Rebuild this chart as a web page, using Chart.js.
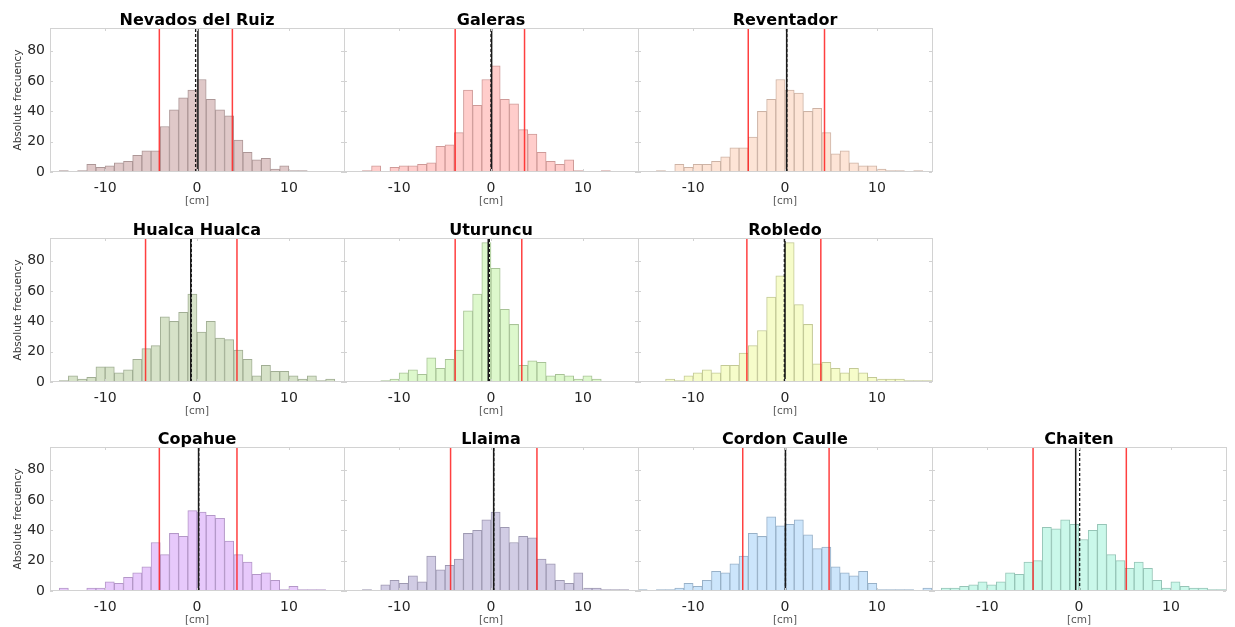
<!DOCTYPE html>
<html>
<head>
<meta charset="utf-8">
<script src="https://cdn.jsdelivr.net/npm/chart.js@4"></script>
<style>
body { margin: 0; background: #fff; width: 1235px; height: 627px; position: relative; overflow: hidden; }
canvas { position: absolute; }
</style>
</head>
<body>
<script>
// volcano names, one panel each
var names = ['Nevados del Ruiz', 'Galeras', 'Reventador', 'Hualca Hualca', 'Uturuncu',
             'Robledo', 'Copahue', 'Llaima', 'Cordon Caulle', 'Chaiten'];

// left edge of the first 1 cm bin of every histogram
var binFrom = [-15, -14, -14, -15, -12, -13, -15, -14, -16, -15];

// counts per bin
var nevados    = [1, 0, 1, 5, 3, 4, 6, 7, 11, 14, 14, 30, 41, 49, 54, 61, 48, 41, 37, 21, 13, 8, 9, 2, 4, 1, 1];
var galeras    = [1, 4, 0, 3, 4, 4, 5, 6, 17, 18, 26, 54, 44, 61, 70, 48, 45, 28, 25, 13, 7, 5, 8, 1, 0, 0, 1];
var reventador = [1, 0, 5, 3, 5, 5, 7, 10, 16, 16, 23, 40, 48, 61, 54, 52, 40, 42, 26, 12, 14, 6, 4, 4, 2, 1, 1, 0, 1];
var hualca     = [1, 4, 2, 3, 10, 10, 6, 8, 15, 22, 24, 43, 40, 46, 58, 33, 40, 29, 28, 21, 15, 4, 11, 7, 7, 4, 2, 4, 1, 2];
var uturuncu   = [1, 2, 6, 8, 5, 16, 9, 15, 21, 47, 58, 92, 75, 48, 38, 11, 14, 13, 4, 5, 4, 2, 4, 2];
var robledo    = [2, 1, 4, 6, 8, 6, 11, 11, 19, 24, 34, 56, 70, 92, 51, 38, 12, 13, 9, 6, 9, 6, 3, 2, 2, 2, 1, 1, 1];
var copahue    = [2, 0, 0, 2, 2, 6, 5, 9, 12, 16, 32, 24, 38, 36, 53, 52, 50, 48, 33, 24, 19, 11, 12, 7, 1, 3, 1, 1, 1];
var llaima     = [1, 0, 4, 7, 5, 10, 6, 23, 14, 17, 21, 38, 40, 47, 52, 42, 32, 36, 35, 21, 18, 7, 5, 12, 2, 2, 1, 1, 1];
var cordon     = [1, 0, 1, 1, 2, 5, 3, 7, 13, 12, 18, 23, 38, 36, 49, 43, 44, 47, 37, 28, 29, 16, 12, 10, 13, 5, 1, 1, 1, 1, 0, 2];
var chaiten    = [2, 2, 3, 4, 6, 4, 6, 12, 11, 19, 20, 42, 41, 47, 44, 34, 40, 44, 24, 20, 15, 19, 15, 7, 2, 6, 3, 2, 2, 1, 1];
var counts = [nevados, galeras, reventador, hualca, uturuncu, robledo, copahue, llaima, cordon, chaiten];

// vertical markers [cm]
var redLo      = [-4.1, -3.9, -4.0, -5.6, -3.9, -4.15, -4.1, -4.4, -4.6, -5.0];
var redHi      = [3.85, 3.65, 4.3, 4.35, 3.35, 3.9, 4.35, 5.0, 4.8, 5.15];
var solidLine  = [0.1, 0.07, 0.18, -0.68, -0.3, 0, 0.17, 0.29, 0.05, -0.36];
var dashedLine = [-0.15, 0, 0.2, -0.62, -0.18, -0.07, 0.19, 0.3, 0.05, 0.07];

var xTicks = [-10, 0, 10];
var yTicks = [0, 20, 40, 60, 80];

var fills = ['#dfc8c8', '#ffcdcb', '#fde4d6', '#d6e2c8', '#ddf8cc',
             '#f6fcca', '#e7c9fb', '#d1cce4', '#cce5fb', '#caf8ea'];
var edges = ['#ad9797', '#cf9a98', '#cdb3a5', '#a1ae94', '#a8c397',
             '#c3c996', '#b497c8', '#9e99b2', '#98b1c8', '#96c5b7'];

var colLeft = [50, 344, 638, 932];
var rowTop = [28, 238, 447];
var plotW = 294, plotH = 144, padT = 28, padB = 40;
var cells = [[0, 0], [0, 1], [0, 2], [1, 0], [1, 1], [1, 2], [2, 0], [2, 1], [2, 2], [2, 3]];

var panelDecor = {
    id: 'panelDecor',
    afterDatasetsDraw: function (chart, args, opts) {
        var ctx = chart.ctx, a = chart.chartArea, xs = chart.scales.x;
        function vline(v, color, width, dash) {
            var px = xs.getPixelForValue(v);
            ctx.save();
            ctx.strokeStyle = color;
            ctx.lineWidth = width;
            ctx.setLineDash(dash);
            ctx.beginPath();
            ctx.moveTo(px, a.bottom);
            ctx.lineTo(px, a.top);
            ctx.stroke();
            ctx.restore();
        }
        vline(redLo[opts.idx], 'rgba(255,30,30,0.85)', 1.5, []);
        vline(redHi[opts.idx], 'rgba(255,30,30,0.85)', 1.5, []);
        vline(solidLine[opts.idx], '#1a1a1a', 1.5, []);
        vline(dashedLine[opts.idx], '#1a1a1a', 1.3, [3, 2]);
    },
    afterDraw: function (chart, args, opts) {
        var ctx = chart.ctx, a = chart.chartArea, xs = chart.scales.x, ys = chart.scales.y;
        ctx.save();
        ctx.strokeStyle = '#d2d2d2';
        ctx.lineWidth = 1;
        // right edge lands on the same pixel column as the next panel's left edge
        ctx.strokeRect(a.left + 0.5, a.top + 0.5, a.right - a.left, a.bottom - a.top - 1);
        ctx.beginPath();
        xTicks.forEach(function (v) {
            var px = Math.round(xs.getPixelForValue(v)) + 0.5;
            ctx.moveTo(px, a.bottom); ctx.lineTo(px, a.bottom - 3);
            ctx.moveTo(px, a.top); ctx.lineTo(px, a.top + 3);
        });
        yTicks.forEach(function (v) {
            var py = Math.round(ys.getPixelForValue(v)) + 0.5;
            ctx.moveTo(a.left, py); ctx.lineTo(a.left + 3, py);
            ctx.moveTo(a.right, py); ctx.lineTo(a.right - 3, py);
        });
        ctx.stroke();
        ctx.fillStyle = '#000';
        ctx.font = 'bold 16px "DejaVu Sans"';
        ctx.textAlign = 'center';
        ctx.textBaseline = 'alphabetic';
        ctx.fillText(opts.title, (a.left + a.right) / 2, a.top - 3);
        ctx.restore();
    }
};

cells.forEach(function (rc, i) {
    var first = rc[1] === 0;
    var padL = first ? 50 : 2;
    var cv = document.createElement('canvas');
    cv.width = padL + plotW + 2;
    cv.height = padT + plotH + padB;
    cv.style.left = (colLeft[rc[1]] - padL) + 'px';
    cv.style.top = (rowTop[rc[0]] - padT) + 'px';
    document.body.appendChild(cv);

    var points = counts[i].map(function (c, k) {
        return { x: binFrom[i] + k + 0.5, y: c };
    });

    new Chart(cv, {
        type: 'bar',
        data: {
            datasets: [{
                data: points,
                backgroundColor: fills[i],
                borderColor: edges[i],
                borderWidth: 1,
                borderSkipped: 'start',
                barPercentage: 1,
                categoryPercentage: 1
            }]
        },
        options: {
            responsive: false,
            animation: false,
            events: [],
            layout: { padding: { top: padT, right: 2, bottom: 0, left: first ? 0 : 2 } },
            plugins: {
                legend: { display: false },
                tooltip: { enabled: false },
                panelDecor: { title: names[i], idx: i }
            },
            scales: {
                x: {
                    type: 'linear',
                    min: -16,
                    max: 16,
                    offset: false,
                    grid: { display: false, drawTicks: false },
                    border: { display: false },
                    afterBuildTicks: function (s) { s.ticks = xTicks.map(function (v) { return { value: v }; }); },
                    afterFit: function (s) { s.height = padB; },
                    ticks: { padding: 8, color: '#262626', font: { family: 'DejaVu Sans', size: 14 } },
                    title: {
                        display: true, text: '[cm]', color: '#555',
                        font: { family: 'DejaVu Sans', size: 10.5 },
                        padding: { top: 0, bottom: 4.5 }
                    }
                },
                y: {
                    display: first,
                    min: 0,
                    max: 95,
                    grid: { display: false, drawTicks: false },
                    border: { display: false },
                    afterBuildTicks: function (s) { s.ticks = yTicks.map(function (v) { return { value: v }; }); },
                    afterFit: function (s) { s.width = first ? 50 : 0; },
                    ticks: { padding: 5, color: '#262626', font: { family: 'DejaVu Sans', size: 14 } },
                    title: {
                        display: true, text: 'Absolute frecuency', color: '#333',
                        font: { family: 'DejaVu Sans', size: 10.5 },
                        padding: { top: 11.5, bottom: 0 }
                    }
                }
            }
        },
        plugins: [panelDecor]
    });
});
</script>
</body>
</html>
